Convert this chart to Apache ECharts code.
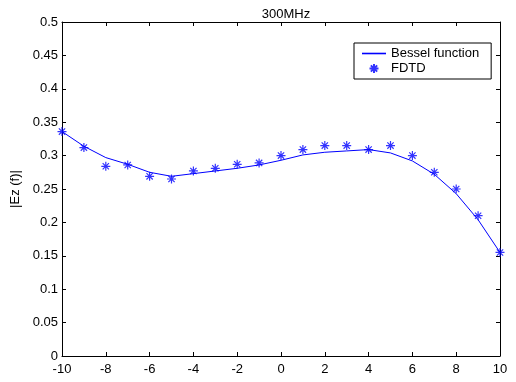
<!DOCTYPE html>
<html>
<head>
<meta charset="utf-8">
<script src="https://cdn.jsdelivr.net/npm/echarts@6/dist/echarts.min.js"></script>
<style>html,body{margin:0;padding:0;background:#fff}#c{width:516px;height:382px}</style>
</head>
<body>
<div id="c"></div>
<script>
var xValues = [-10,-9,-8,-7,-6,-5,-4,-3,-2,-1,0,1,2,3,4,5,6,7,8,9,10];
var besselValues = [0.336,0.314,0.297,0.287,0.275,0.269,0.273,0.277,0.281,0.286,0.293,0.301,0.305,0.307,0.309,0.304,0.292,0.272,0.243,0.204,0.155];
var fdtdValues = [0.336,0.312,0.284,0.286,0.269,0.265,0.277,0.281,0.287,0.289,0.300,0.309,0.315,0.315,0.309,0.315,0.300,0.275,0.250,0.210,0.155];
var xTicks = [-10,-8,-6,-4,-2,0,2,4,6,8,10];
var yTicks = [0,0.05,0.1,0.15,0.2,0.25,0.3,0.35,0.4,0.45,0.5];

var font = 'Liberation Sans, Arial, sans-serif';
var star = 'path://M0,-1L0,1M-1,0L1,0M-0.7,-0.7L0.7,0.7M-0.7,0.7L0.7,-0.7';
function pairs(ys){ return xValues.map(function(x,i){return [x, ys[i]];}); }
function fmt(v){ return String(+v.toFixed(2)); }

var chart = echarts.init(document.getElementById('c'), null, {renderer:'canvas'});
var axisLine = {show:true, onZero:false, lineStyle:{color:'#000', width:1}};
var tick = {show:true, inside:true, length:4, lineStyle:{color:'#000'}};
chart.setOption({
  backgroundColor:'#fff',
  animation:false,
  title:{text:'300MHz', left:281, top:3, textAlign:'center',
    textStyle:{fontFamily:font, fontSize:13, fontWeight:'normal', color:'#000'}},
  grid:{left:62, right:16, top:22, bottom:26},
  legend:{
    orient:'vertical', left:354, top:43,
    padding:[4,12,4,8], itemGap:2, itemWidth:24, itemHeight:9,
    borderColor:'#000', borderWidth:1, backgroundColor:'#fff',
    itemStyle:{color:'#0000ff', borderColor:'#0000ff'},
    textStyle:{fontFamily:font, fontSize:13, color:'#000'},
    data:[{name:'Bessel function', icon:'path://M0,0L15,0L15,1L0,1Z',
           itemStyle:{color:'#0000ff', borderColor:'#0000ff', borderWidth:0},
           lineStyle:{color:'#0000ff', width:1}},
          {name:'FDTD', icon:star}]
  },
  xAxis:[{
    type:'value', min:-10, max:10, interval:2,
    axisLine:axisLine, axisTick:tick, splitLine:{show:false},
    axisLabel:{fontFamily:font, fontSize:13, color:'#000', margin:7, formatter:function(v){return String(v);}}
  },{
    type:'value', position:'top', min:-10, max:10, interval:2,
    axisLine:axisLine, axisTick:tick, splitLine:{show:false}, axisLabel:{show:false}
  }],
  yAxis:[{
    type:'value', min:0, max:0.5, interval:0.05,
    name:'|Ez (f)|', nameLocation:'middle', nameGap:36,
    nameTextStyle:{fontFamily:font, fontSize:13, color:'#000'},
    axisLine:axisLine, axisTick:tick, splitLine:{show:false},
    axisLabel:{fontFamily:font, fontSize:13, color:'#000', margin:4, formatter:fmt}
  },{
    type:'value', position:'right', min:0, max:0.5, interval:0.05,
    axisLine:axisLine, axisTick:tick, splitLine:{show:false}, axisLabel:{show:false}
  }],
  series:[{
    name:'Bessel function', type:'line', data:pairs(besselValues),
    symbol:'none', lineStyle:{color:'#0000ff', width:1}, itemStyle:{color:'#0000ff'}
  },{
    name:'FDTD', type:'scatter', data:pairs(fdtdValues),
    symbol:star, symbolSize:9,
    itemStyle:{color:'#0000ff', borderColor:'#0000ff', borderWidth:1.2}
  }]
});
</script>
</body>
</html>
